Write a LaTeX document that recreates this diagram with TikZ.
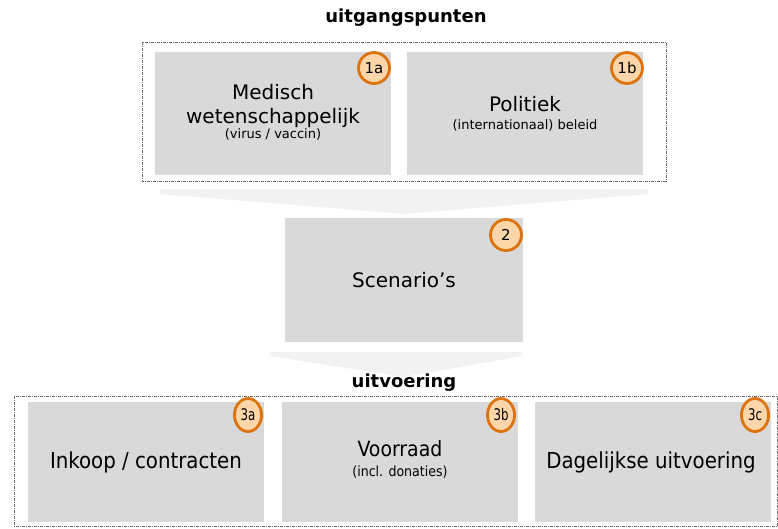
\documentclass[tikz,border=0pt]{standalone}
\usepackage{fontspec}
\setmainfont{DejaVu Sans}
\newfontfamily\narrowfont{DejaVu Sans Condensed}
\begin{document}
\begin{tikzpicture}[x=1pt, y=-1pt,
  vak/.style={rectangle, fill=boxgray, minimum width=236pt, minimum height=123pt, inner sep=0pt},
  badge/.style={circle, draw=badgeline, fill=badgefill, line width=2.8pt, minimum size=31pt, inner sep=0pt, font=\fontsize{15}{15}\selectfont},
  kader/.style={draw=framegray, line width=0.6pt, dash pattern=on 3pt off 1pt on 1pt off 1pt},
  trechter/.style={fill=funnelgray},
  kop/.style={font=\fontsize{18}{18}\selectfont\bfseries}]
\definecolor{boxgray}{RGB}{217,217,217}
\definecolor{badgefill}{RGB}{252,214,168}
\definecolor{badgeline}{RGB}{220,115,15}
\definecolor{framegray}{RGB}{110,110,110}
\definecolor{funnelgray}{RGB}{242,242,242}
\useasboundingbox (0,0) rectangle (778,528);
% uitgangspunten
\node[kop] (titel1) at (406,18){uitgangspunten};
\draw[kader] (142,42) rectangle (666,181);
\node[vak] (med) at (273,113.5){};
\node[vak] (pol) at (525,113.5){};
\node[align=center, font=\fontsize{20}{24}\selectfont] (medtxt) at (273,105.5){Medisch\\wetenschappelijk};
\node[font=\fontsize{13}{13}\selectfont] (medsub) at (273,134){(virus / vaccin)};
\node[font=\fontsize{20}{20}\selectfont] (poltxt) at (525,104){Politiek};
\node[font=\fontsize{13}{13}\selectfont] (polsub) at (525,125){(internationaal) beleid};
\node[badge] (b1a) at (374,68){1a};
\node[badge] (b1b) at (627,68){1b};
% trechter naar scenario's
\fill[trechter] (160,189) -- (648,189) -- (648,194) -- (404,214) -- (160,194) -- cycle;
\node[vak, minimum width=238pt, minimum height=124pt] (scen) at (404,280){};
\node[font=\fontsize{20}{20}\selectfont] (scentxt) at (404,280){Scenario's};
\node[badge] (b2) at (506,235){2};
% trechter naar uitvoering
\fill[trechter] (270,352) -- (522,352) -- (522,356) -- (404,377) -- (270,356) -- cycle;
% uitvoering
\node[kop] (titel2) at (404,383){uitvoering};
\draw[kader] (14,396) rectangle (777.5,526);
\node[vak, minimum height=120pt] (inkoop) at (146,462){};
\node[vak, minimum height=120pt] (voorraad) at (400,462){};
\node[vak, minimum height=120pt] (dagelijks) at (653,462){};
\node[font=\narrowfont\fontsize{22}{22}\selectfont] (inkooptxt) at (146,462){Inkoop / contracten};
\node[font=\narrowfont\fontsize{21}{21}\selectfont] (voorraadtxt) at (400,449){Voorraad};
\node[font=\narrowfont\fontsize{14}{14}\selectfont] (voorraadsub) at (400,472){(incl. donaties)};
\node[font=\narrowfont\fontsize{22}{22}\selectfont] (dageltxt) at (651,462){Dagelijkse uitvoering};
\node[badge, minimum size=33pt, font=\narrowfont\fontsize{16}{16}\selectfont, xscale=0.82] (b3a) at (248,415){3a};
\node[badge, minimum size=33pt, font=\narrowfont\fontsize{16}{16}\selectfont, xscale=0.82] (b3b) at (501,415){3b};
\node[badge, minimum size=33pt, font=\narrowfont\fontsize{16}{16}\selectfont, xscale=0.82] (b3c) at (755,415){3c};
\end{tikzpicture}
\end{document}
